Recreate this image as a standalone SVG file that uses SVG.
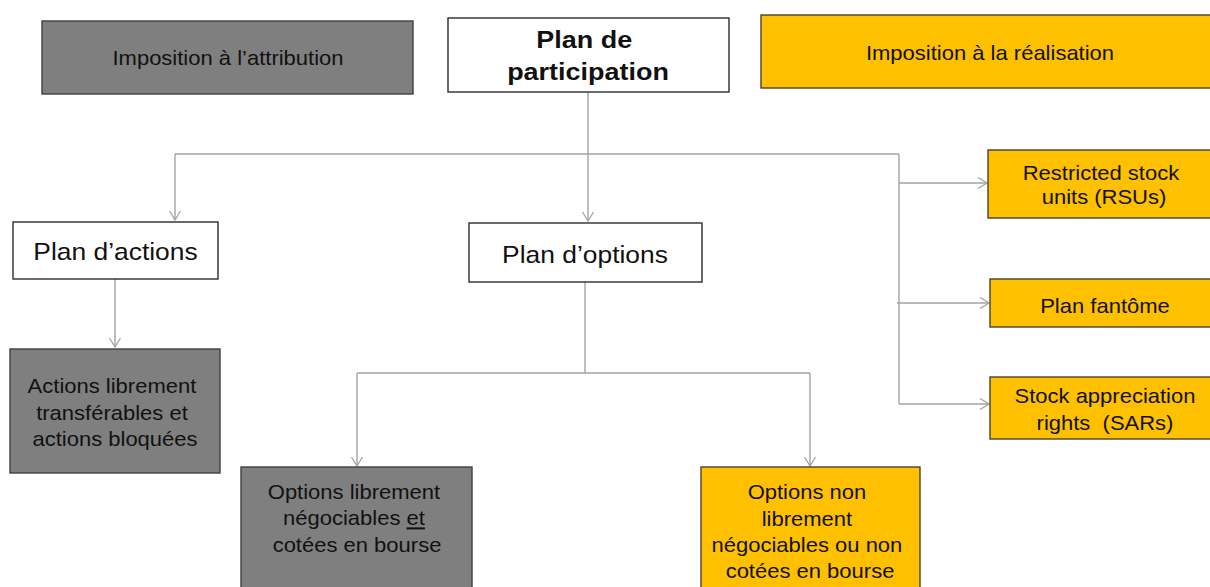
<svg xmlns="http://www.w3.org/2000/svg" width="1210" height="587" viewBox="0 0 1210 587">
  <style>
    .box { stroke-width: 1.4; }
    .white { fill: #ffffff; stroke: #2b2b2b; }
    .grey { fill: #7f7f7f; stroke: #3f3f3f; }
    .gold { fill: #ffc000; stroke: #4a4030; }
    .lbl { font-family: "Liberation Sans", Arial, sans-serif; font-size: 20px; fill: #111111; text-anchor: middle; }
    .big { font-size: 24px; }
    .bold { font-weight: bold; font-size: 24.5px; }
    .wire { fill: none; stroke: #a3a3a3; stroke-width: 1.4; }
  </style>
  <defs>
    <marker id="open-arrow" markerUnits="userSpaceOnUse" markerWidth="14" markerHeight="14" viewBox="-12 -7 14 14" refX="0" refY="0" orient="auto">
      <path d="M-9,-5.5 L0,0 L-9,5.5" fill="none" stroke="#a3a3a3" stroke-width="1.3"/>
    </marker>
  </defs>

  <!-- connectors -->
  <g id="connectors">
    <path class="wire" d="M588 92 V221" marker-end="url(#open-arrow)"/>
    <path class="wire" d="M175 154 H899"/>
    <path class="wire" d="M175 154 V220" marker-end="url(#open-arrow)"/>
    <path class="wire" d="M899 154 V404"/>
    <path class="wire" d="M899 183 H987" marker-end="url(#open-arrow)"/>
    <path class="wire" d="M897 303 H989" marker-end="url(#open-arrow)"/>
    <path class="wire" d="M899 404 H989" marker-end="url(#open-arrow)"/>
    <path class="wire" d="M115 279 V347" marker-end="url(#open-arrow)"/>
    <path class="wire" d="M585 282 V373"/>
    <path class="wire" d="M357 373 H810"/>
    <path class="wire" d="M357 373 V466" marker-end="url(#open-arrow)"/>
    <path class="wire" d="M810 373 V466" marker-end="url(#open-arrow)"/>
  </g>

  <!-- legend: taxation at grant -->
  <g id="imposition-attribution">
    <rect class="box grey" x="42" y="21" width="371" height="73"/>
    <text class="lbl" transform="translate(228 65) scale(1.1 1)">Imposition à l’attribution</text>
  </g>

  <!-- root -->
  <g id="plan-participation">
    <rect class="box white" x="448" y="18" width="281" height="74"/>
    <text class="lbl bold" transform="translate(588 48) scale(1.1 1)">
      <tspan x="0" y="0">Plan de</tspan>
      <tspan x="0" y="32">participation</tspan>
    </text>
  </g>

  <!-- legend: taxation at exercise -->
  <g id="imposition-realisation">
    <rect class="box gold" x="761" y="15" width="456" height="73"/>
    <text class="lbl" transform="translate(990 60) scale(1.1 1)">Imposition à la réalisation</text>
  </g>

  <g id="plan-actions">
    <rect class="box white" x="13" y="222" width="205" height="57"/>
    <text class="lbl big" transform="translate(115.5 260) scale(1.1 1)">Plan d’actions</text>
  </g>

  <g id="plan-options">
    <rect class="box white" x="469" y="223" width="233" height="59"/>
    <text class="lbl big" transform="translate(585 263) scale(1.1 1)">Plan d’options</text>
  </g>

  <g id="actions-librement">
    <rect class="box grey" x="10" y="349" width="210" height="124"/>
    <text class="lbl" transform="translate(115 393) scale(1.1 1)">
      <tspan x="0" y="0">Actions librement</tspan>
      <tspan x="0" y="26.7">transférables et</tspan>
      <tspan x="0" y="53.4">actions bloquées</tspan>
    </text>
  </g>

  <g id="options-librement">
    <rect class="box grey" x="241" y="467" width="231" height="130"/>
    <text class="lbl" transform="translate(357 499) scale(1.1 1)">
      <tspan x="0" y="0">Options librement</tspan>
      <tspan x="0" y="26.5">négociables <tspan text-decoration="underline">et</tspan></tspan>
      <tspan x="0" y="53">cotées en bourse</tspan>
    </text>
  </g>

  <g id="options-non-librement">
    <rect class="box gold" x="701" y="467" width="219" height="130"/>
    <text class="lbl" transform="translate(810 499.3) scale(1.1 1)">
      <tspan x="0" y="0">Options non</tspan>
      <tspan x="0" y="26.3">librement</tspan>
      <tspan x="0" y="52.5">négociables ou non</tspan>
      <tspan x="0" y="78.5">cotées en bourse</tspan>
    </text>
  </g>

  <g id="rsu">
    <rect class="box gold" x="988" y="150" width="229" height="68"/>
    <text class="lbl" transform="translate(1104 179.5) scale(1.1 1)">
      <tspan x="0" y="0">Restricted stock</tspan>
      <tspan x="0" y="25">units (RSUs)</tspan>
    </text>
  </g>

  <g id="plan-fantome">
    <rect class="box gold" x="990" y="279" width="227" height="48"/>
    <text class="lbl" transform="translate(1105 312.5) scale(1.1 1)">Plan fantôme</text>
  </g>

  <g id="sar">
    <rect class="box gold" x="990" y="377" width="227" height="62"/>
    <text class="lbl" transform="translate(1105 403.3) scale(1.1 1)" xml:space="preserve"><tspan x="0" y="0">Stock appreciation</tspan><tspan x="0" y="26.4">rights  (SARs)</tspan></text>
  </g>
</svg>
